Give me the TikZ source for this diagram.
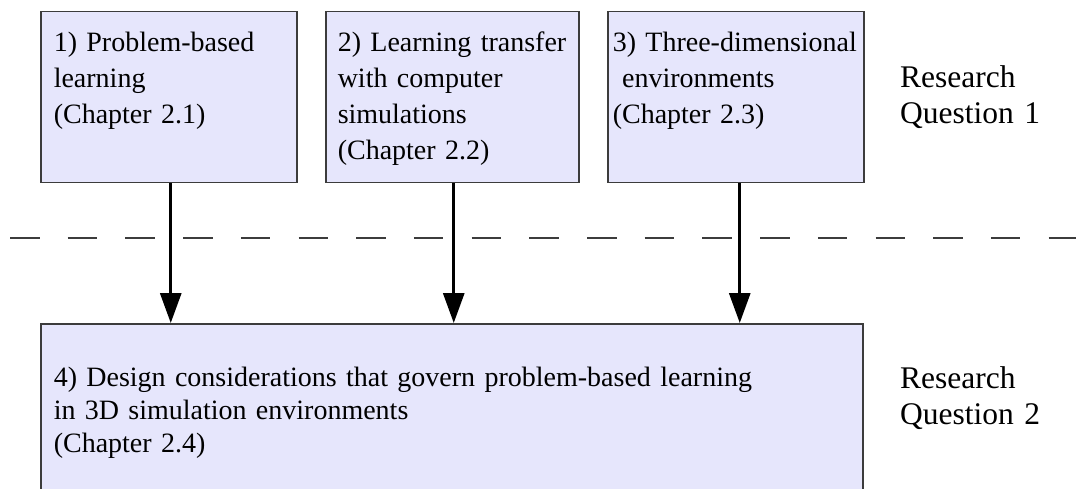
\documentclass[tikz,border=0pt]{standalone}
\usepackage{fontspec}
\setmainfont{Liberation Serif}
\usepackage{xcolor}
\usetikzlibrary{arrows.meta}
\definecolor{bv}{RGB}{230,230,252}
\definecolor{rd}{RGB}{60,60,60}

\begin{document}
\begin{tikzpicture}[x=1pt, y=-1pt,
    bl/.style={draw=rd, fill=bv, line width=1.5pt, anchor=north west, align=left,
               inner xsep=13pt, inner ysep=40pt, text height=0pt, text depth=91pt,
               font=\fontsize{28}{36}\selectfont},
    rq/.style={anchor=base west, align=left, text width=170pt, inner sep=0pt,
               font=\fontsize{31.5}{36}\selectfont},
    pijl/.style={line width=3pt, -{Triangle[length=30pt, width=21pt]}}]

    \useasboundingbox (0,0) rectangle (1076,489);
    \clip (0,0) rectangle (1076,489);

    % bovenste rij
    \node[bl, text width=230pt] (q1) at (40,11) {1) Problem-based\\learning\\(Chapter 2.1)};
    \node[bl, text width=229pt, inner xsep=12pt] (q2) at (325,11) {2) Learning transfer\\with computer\\simulations\\(Chapter 2.2)};
    \node[bl, text width=246pt, inner xsep=5pt] (q3) at (607,11) {3) Three-dimensional\\~environments\\(Chapter 2.3)};
    \node[rq] (rqa) at (900,88) {Research\\Question 1};

    % scheiding
    \draw[rd, line width=2pt, dash pattern=on 29.5pt off 28.2pt] (10,238) -- (1076,238);

    % onderste blok
    \node[bl, text width=796pt, inner ysep=63pt, text depth=71pt,
          font=\fontsize{28}{33}\selectfont] (q4) at (40,323)
          {4) Design considerations that govern problem-based learning\\in 3D simulation environments\\(Chapter 2.4)};
    \node[rq] (rqb) at (900,388) {Research\\Question 2};

    % pijlen
    \draw[pijl] ([xshift=2pt]q1.south) -- ([xshift=2pt]q1.south |- q4.north);
    \draw[pijl] ([xshift=1.5pt]q2.south) -- ([xshift=1.5pt]q2.south |- q4.north);
    \draw[pijl] ([xshift=4pt]q3.south) -- ([xshift=4pt]q3.south |- q4.north);

\end{tikzpicture}
\end{document}
